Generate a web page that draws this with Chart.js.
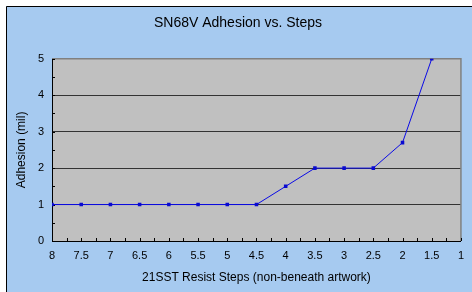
<!DOCTYPE html>
<html><head><meta charset="utf-8">
<script src="https://cdn.jsdelivr.net/npm/chart.js@4/dist/chart.umd.min.js"></script>
<style>html,body{margin:0;padding:0;background:#fff;overflow:hidden}</style>
</head><body>
<canvas id="c" width="472" height="292"></canvas>
<script>
const steps = [8, 7.5, 7, 6.5, 6, 5.5, 5, 4.5, 4, 3.5, 3, 2.5, 2, 1.5];
const adhesion = [1, 1, 1, 1, 1, 1, 1, 1, 1.5, 2, 2, 2, 2.7, 5];
const xTickLabels = [8, 7.5, 7, 6.5, 6, 5.5, 5, 4.5, 4, 3.5, 3, 2.5, 2, 1.5, 1];
const yTickLabels = [0, 1, 2, 3, 4, 5];
const xMinorStep = 0.25;
const yMinorStep = 0.5;

const FONT = "'Liberation Sans', Arial, sans-serif";

const framePlugin = {
  id: 'frame',
  beforeDraw(chart) {
    const ctx = chart.ctx, a = chart.chartArea;
    ctx.save();
    ctx.fillStyle = '#ffffff';
    ctx.fillRect(0, 0, chart.width, chart.height);
    ctx.fillStyle = '#a6caf0';
    ctx.fillRect(6, 6, chart.width, chart.height);
    ctx.strokeStyle = '#000';
    ctx.lineWidth = 1;
    ctx.beginPath();
    ctx.moveTo(6.5, chart.height + 2);
    ctx.lineTo(6.5, 6.5);
    ctx.lineTo(chart.width + 2, 6.5);
    ctx.stroke();
    ctx.fillStyle = '#c0c0c0';
    ctx.fillRect(a.left, a.top, a.right - a.left, a.bottom - a.top);
    ctx.restore();
  },
  beforeDatasetsDraw(chart) {
    const ctx = chart.ctx, a = chart.chartArea;
    const xs = chart.scales.x, ys = chart.scales.y;
    ctx.save();
    ctx.strokeStyle = '#808080';
    ctx.lineWidth = 1.5;
    ctx.beginPath();
    ctx.moveTo(a.left, a.top);
    ctx.lineTo(a.right, a.top);
    ctx.lineTo(a.right, a.bottom);
    ctx.stroke();
    ctx.strokeStyle = '#000';
    ctx.lineWidth = 1;
    ctx.beginPath();
    for (let v = xs.min; v <= xs.max + 1e-9; v += xMinorStep) {
      const px = Math.round(xs.getPixelForValue(v)) + 0.5;
      ctx.moveTo(px, a.bottom);
      ctx.lineTo(px, a.bottom - 3);
    }
    for (let v = ys.min; v <= ys.max + 1e-9; v += yMinorStep) {
      const py = Math.round(ys.getPixelForValue(v)) + 0.5;
      ctx.moveTo(a.left, py);
      ctx.lineTo(a.left + 3, py);
    }
    ctx.stroke();
    ctx.restore();
  }
};

new Chart(document.getElementById('c'), {
  type: 'line',
  data: {
    datasets: [{
      data: steps.map((s, i) => ({ x: s, y: adhesion[i] })),
      borderColor: '#0a0ae6',
      backgroundColor: '#0a0ad0',
      borderWidth: 1,
      pointStyle: 'rect',
      pointRadius: 2.5,
      pointBorderWidth: 0,
      tension: 0,
      fill: false
    }]
  },
  options: {
    responsive: false,
    animation: false,
    layout: { padding: { left: 14, right: 10, top: 0, bottom: 6 } },
    plugins: {
      legend: { display: false },
      tooltip: { enabled: false },
      title: {
        display: true,
        text: 'SN68V Adhesion vs. Steps',
        color: '#000',
        font: { family: FONT, size: 14, weight: 'normal' },
        padding: { top: 15, bottom: 27 }
      }
    },
    scales: {
      x: {
        type: 'linear',
        reverse: true,
        min: 1,
        max: 8,
        afterBuildTicks: s => { s.ticks = xTickLabels.map(v => ({ value: v })); },
        afterFit: s => { s.height = 45; },
        afterUpdate: s => {},
        grid: { drawOnChartArea: false, drawTicks: false },
        border: { color: '#000', width: 1 },
        ticks: {
          color: '#000', font: { family: FONT, size: 11 }, padding: 8, maxRotation: 0, autoSkip: false,
          callback: v => String(v)
        },
        title: {
          display: true,
          text: '21SST Resist Steps (non-beneath artwork)',
          color: '#000',
          font: { family: FONT, size: 12 },
          padding: { top: 0, bottom: 1 }
        }
      },
      y: {
        min: 0,
        max: 5,
        afterBuildTicks: s => { s.ticks = yTickLabels.map(v => ({ value: v })); },
        afterFit: s => { s.width = 38; },
        grid: { color: '#333', lineWidth: 1, drawTicks: false },
        border: { color: '#000', width: 1 },
        ticks: { color: '#000', font: { family: FONT, size: 11 }, padding: 8, callback: v => String(v) },
        title: {
          display: true,
          text: 'Adhesion (mil)',
          color: '#000',
          font: { family: FONT, size: 12 },
          padding: { top: 0, bottom: 0 }
        }
      }
    }
  },
  plugins: [framePlugin]
});
</script>
</body></html>
